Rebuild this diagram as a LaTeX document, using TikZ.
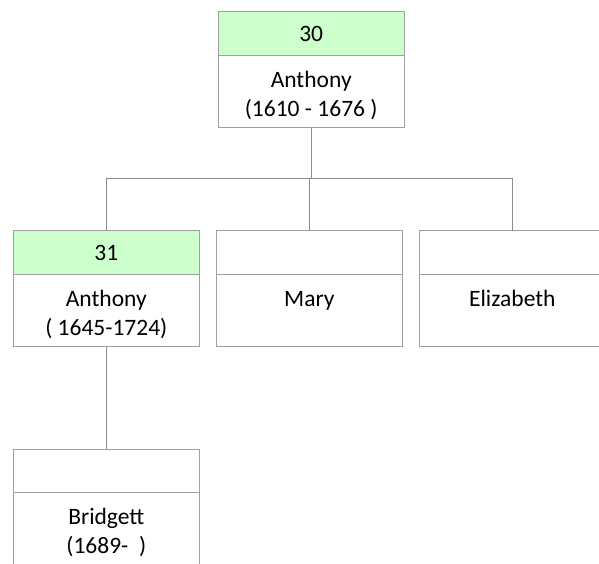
\documentclass[tikz,border=0pt]{standalone}
\usepackage{fontspec}
\setmainfont{Carlito}
\usetikzlibrary{%
    calc,
    positioning
}
\definecolor{boxgray}{HTML}{A0A0A0}
\definecolor{linkgray}{HTML}{8C8C8C}
\definecolor{idgreen}{HTML}{CCFFCC}

\begin{document}
\begin{tikzpicture}[
    font=\fontsize{23.5}{29}\selectfont,
    hdr/.style={draw=boxgray, line width=1pt, fill=white, outer sep=0pt,
                minimum width=186pt, minimum height=43.5pt, inner sep=2pt},
    idhdr/.style={hdr, fill=idgreen},
    bodybox/.style={draw=boxgray, line width=1pt, fill=white, outer sep=0pt,
                    minimum width=186pt, inner sep=0pt, align=center,
                    text height=32pt, text depth=40.5pt},
    twoline/.style={text height=61pt, text depth=11.5pt},
    link/.style={draw=linkgray, line width=1pt}
]
    \clip (0,0) rectangle (599pt,563pt);

    \node (h30) [idhdr] at (311.2pt,529.3pt) {30};
    \node (b30) [bodybox, twoline, below=0pt of h30] {Anthony\\(1610 - 1676 )};

    \node (h31) [idhdr] at (106.3pt,310.5pt) {31};
    \node (b31) [bodybox, twoline, below=0pt of h31] {Anthony\\( 1645-1724)};
    \node (hMary) [hdr, right=17pt of h31] {};
    \node (bMary) [bodybox, below=0pt of hMary] {Mary};
    \node (hEliz) [hdr, right=17pt of hMary] {};
    \node (bEliz) [bodybox, below=0pt of hEliz] {Elizabeth};

    \node (hBrid) [hdr, below=102.6pt of b31] {};
    \node (bBrid) [bodybox, twoline, below=0pt of hBrid] {Bridgett\\(1689-~~)};

    \coordinate (bus) at ($(b30.south)+(0,-51pt)$);
    \draw[link] (b30.south) -- (bus);
    \foreach \Target in {h31, hMary, hEliz}
        \draw[link] (bus) -| (\Target.north);
    \draw[link] (b31.south) -- (hBrid.north);
\end{tikzpicture}
\end{document}
